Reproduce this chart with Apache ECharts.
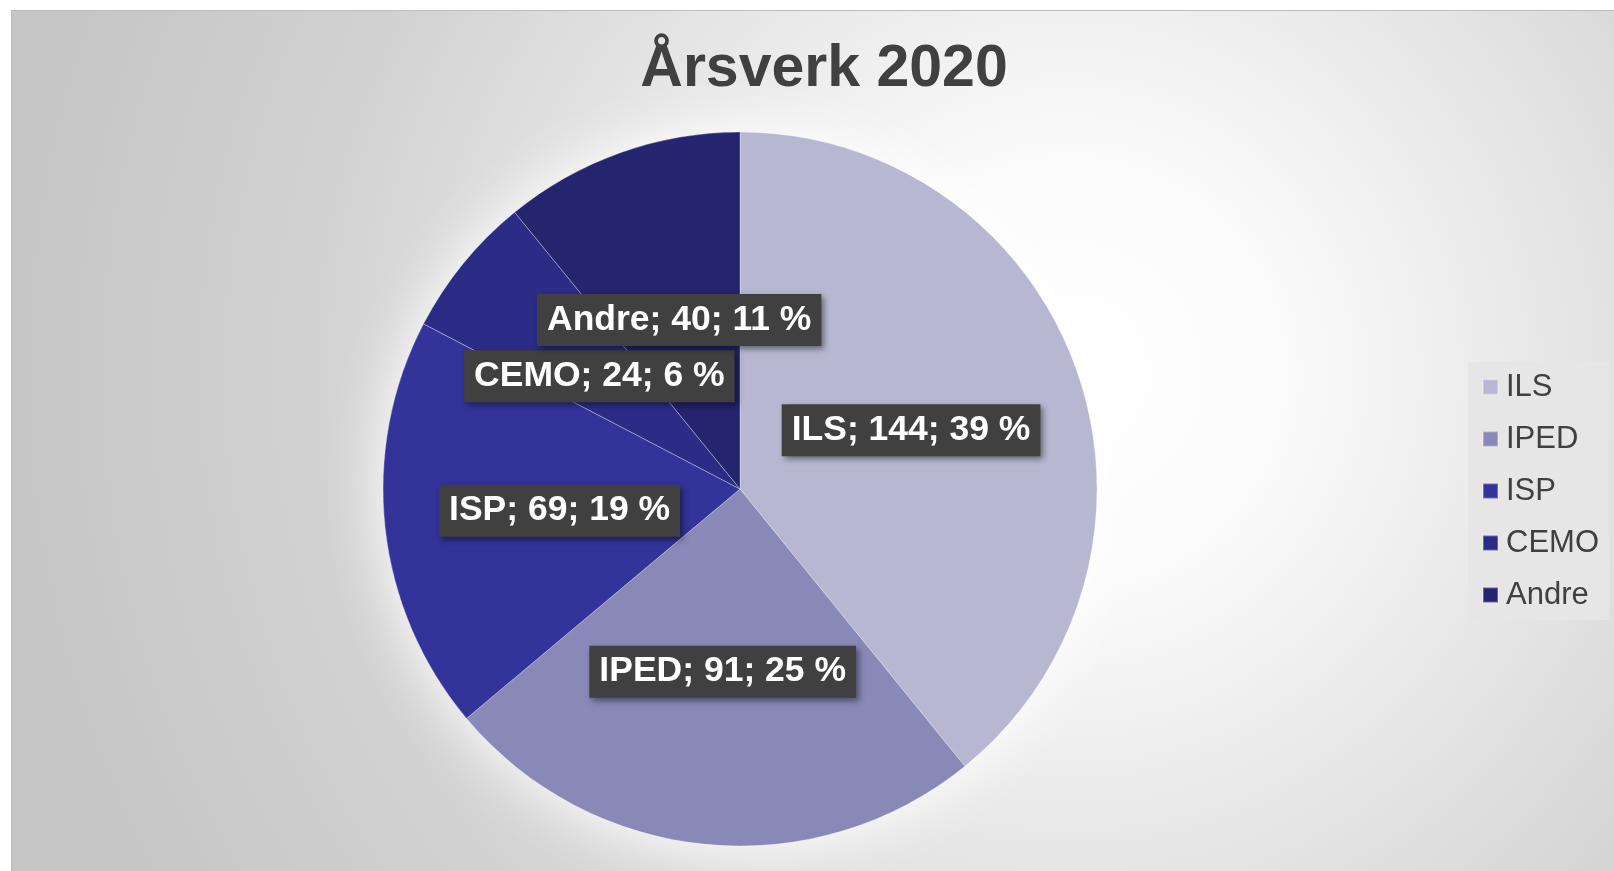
<!DOCTYPE html>
<html>
<head>
<meta charset="utf-8">
<script src="https://cdn.jsdelivr.net/npm/echarts@6/dist/echarts.min.js"></script>
<style>
  html, body { margin: 0; padding: 0; background: #fff; }
  #bg {
    position: absolute; left: 11px; top: 10px; width: 1603px; height: 861px;
    border-left: 1px solid #bdbdbd; border-top: 1px solid #bdbdbd;
    background: radial-gradient(circle at 66% 42%, #ffffff 0%, #fbfbfb 18%, #e6e6e6 42%, #d2d2d2 65%, #c6c6c6 90%);
  }
  #chart { position: absolute; left: 0; top: 0; width: 1614px; height: 871px; }
</style>
</head>
<body>
<div id="bg"></div>
<div id="chart"></div>
<script>
// data
const categories = ["ILS", "IPED", "ISP", "CEMO", "Andre"];
const values = [144, 91, 69, 23.8, 40];
const colors = ["#b7b7d1", "#8989b7", "#333399", "#2c2c87", "#24246f"];

const chart = echarts.init(document.getElementById("chart"), null, { renderer: "canvas" });

const pieData = categories.map((name, i) => ({
  name: name,
  value: values[i],
  itemStyle: { color: colors[i] },
}));

const option = {
  animation: false,
  title: {
    text: "Årsverk 2020",
    left: 819,
    textAlign: "center",
    top: 35,
    textStyle: {
      fontFamily: "Liberation Sans, Arial, sans-serif",
      fontSize: 59,
      fontWeight: "bold",
      color: "#404040",
    },
  },
  legend: {
    data: categories,
    orient: "vertical",
    left: 1468,
    top: 362,
    backgroundColor: "#e6e6e6",
    padding: [9, 10, 9, 14],
    itemWidth: 15,
    itemHeight: 15,
    itemGap: 20,
    icon: "rect",
    textStyle: {
      fontFamily: "Liberation Sans, Arial, sans-serif",
      fontSize: 31,
      lineHeight: 32,
      color: "#404040",
      padding: [0, 0, 0, 3],
    },
  },
  series: [
    {
      // white glow behind the pie
      type: "pie",
      silent: true,
      center: [740, 489],
      radius: 357,
      z: 1,
      label: { show: false },
      labelLine: { show: false },
      itemStyle: { color: "#ffffff", shadowBlur: 60, shadowColor: "rgba(255,255,255,1)" },
      data: [{ name: "glow", value: 1 }],
    },
    {
      type: "pie",
      center: [740, 489],
      radius: 357,
      startAngle: 90,
      clockwise: true,
      z: 2,
      itemStyle: {
        borderColor: "rgba(255,255,255,0.3)",
        borderWidth: 1,
      },
      label: {
        show: true,
        position: "inside",
        offset: [0, 2],
        formatter: function (p) {
          return p.name + "; " + Math.round(p.value) + "; " + Math.round(p.percent) + " %";
        },
        fontFamily: "Liberation Sans, Arial, sans-serif",
        fontSize: 35.5,
        fontWeight: "bold",
        lineHeight: 36,
        color: "#ffffff",
        backgroundColor: "#404040",
        padding: [8, 10, 8, 10],
        shadowColor: "rgba(0,0,0,0.45)",
        shadowBlur: 6,
        shadowOffsetX: 3,
        shadowOffsetY: 3,
      },
      labelLine: { show: false },
      emphasis: { disabled: true },
      data: pieData,
    },
  ],
};
chart.setOption(option);
</script>
</body>
</html>
